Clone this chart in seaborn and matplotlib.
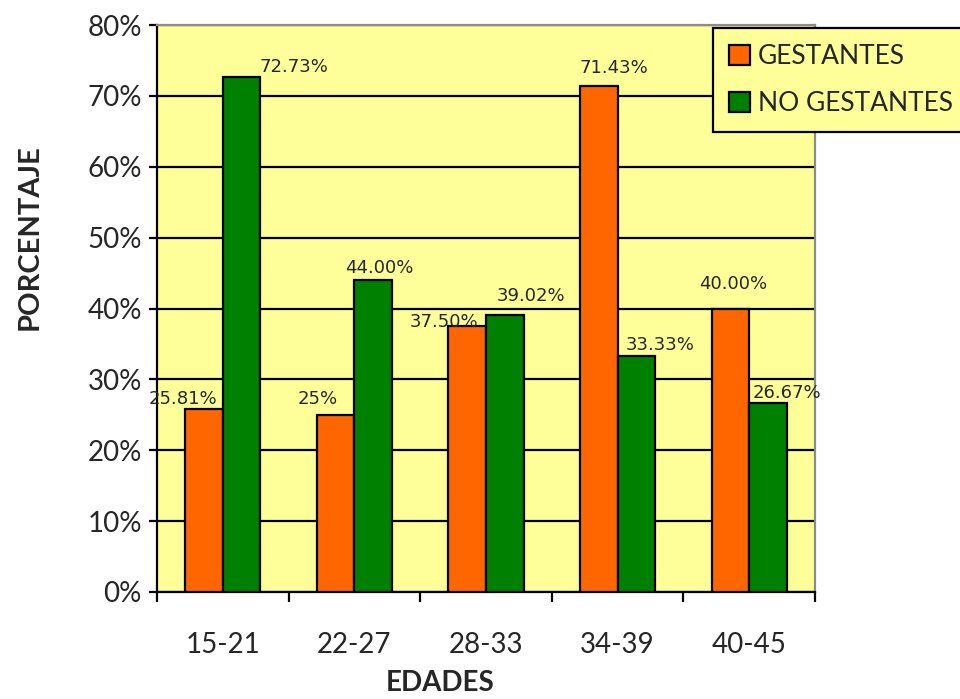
import matplotlib
matplotlib.use("Agg")
import matplotlib.pyplot as plt
from matplotlib.ticker import FixedLocator, FuncFormatter
import seaborn as sns
import pandas as pd

# Age groups and percentages per group
edades = ["15-21", "22-27", "28-33", "34-39", "40-45"]
gestantes = [25.81, 25.0, 37.50, 71.43, 40.00]
no_gestantes = [72.73, 44.00, 39.02, 33.33, 26.67]
etiquetas_g = ["25.81%", "25%", "37.50%", "71.43%", "40.00%"]
etiquetas_n = ["72.73%", "44.00%", "39.02%", "33.33%", "26.67%"]
series = ["GESTANTES", "NO GESTANTES"]
y_ticks = [0, 10, 20, 30, 40, 50, 60, 70, 80]

# label offsets (points) from the top-centre of each bar to the label centre
off_g = [(-15, 7), (-13, 11.5), (-16.5, 3), (11, 13), (2, 18)]
off_n = [(37.5, 6.5), (4.3, 8.6), (18.7, 13.7), (17.3, 8), (13.7, 7.2)]

df = pd.DataFrame({
    "edad": edades * 2,
    "valor": gestantes + no_gestantes,
    "grupo": [series[0]] * len(edades) + [series[1]] * len(edades),
})

sns.set_theme(style="white")
plt.rcParams["font.family"] = ["Lato", "DejaVu Sans"]

fig = plt.figure(figsize=(9.6, 6.99), dpi=100)
ax = fig.add_axes([157 / 960, 1 - 592 / 699, (815 - 157) / 960, (592 - 25) / 699])
ax.set_facecolor("#FFFF99")

palette = {series[0]: "#FF6600", series[1]: "#008000"}
sns.barplot(data=df, x="edad", y="valor", hue="grupo", order=edades,
            hue_order=series, palette=palette, width=0.57, gap=0,
            edgecolor="black", linewidth=1.6, saturation=1, ax=ax, zorder=3)

ax.set_ylim(0, 80)
ax.set_xlim(-0.5, len(edades) - 0.5)
ax.yaxis.set_major_locator(FixedLocator(y_ticks))
ax.yaxis.set_major_formatter(FuncFormatter(lambda v, p: f"{int(v)}%"))
ax.grid(axis="y", color="black", linewidth=1.6, zorder=1)
ax.set_axisbelow(True)

# group boundaries carry the x tick marks
ax.set_xticks([i - 0.5 for i in range(len(edades) + 1)], minor=True)
ax.tick_params(axis="x", which="minor", direction="out", length=7, width=1.6,
               color="black", bottom=True)
ax.tick_params(axis="x", which="major", length=0, pad=29, labelsize=20)
ax.tick_params(axis="y", which="major", direction="out", length=6, width=1.6,
               color="black", left=True, labelsize=20, pad=5)

for s in ["left", "bottom"]:
    ax.spines[s].set_color("black")
    ax.spines[s].set_linewidth(1.6)
for s in ["top", "right"]:
    ax.spines[s].set_color("#8C8C8C")
    ax.spines[s].set_linewidth(1.6)

ax.set_xlabel("EDADES", fontsize=20, fontweight="bold")
ax.xaxis.set_label_coords((440 - 157) / 658, -(683 - 592) / 567)
ax.xaxis.label.set_va("center")
ax.set_ylabel("PORCENTAJE", fontsize=21, fontweight="bold")
ax.yaxis.set_label_coords(-(157 - 30) / 658, (592 - 237) / 567)
ax.yaxis.label.set_va("center")

# value labels
containers = ax.containers
for cont, labels, offs in [(containers[0], etiquetas_g, off_g),
                           (containers[1], etiquetas_n, off_n)]:
    for bar, lab, (dx, dy) in zip(cont, labels, offs):
        x = bar.get_x() + bar.get_width() / 2
        y = bar.get_height()
        ax.annotate(lab, (x, y), xytext=(dx, dy), textcoords="offset points",
                    ha="center", va="center", fontsize=13,
                    family=["DejaVu Sans"], zorder=5)

ax.legend_.remove()
handles = [plt.Rectangle((0, 0), 1, 1, facecolor=palette[s], edgecolor="black",
                         linewidth=1.6) for s in series]
leg = fig.legend(handles, series, loc="upper left",
                 bbox_to_anchor=(713 / 960, 1 - 28 / 699),
                 bbox_transform=fig.transFigure, borderaxespad=0,
                 fontsize=19, handlelength=0.8, handleheight=0.8,
                 handletextpad=0.3, labelspacing=0.85, borderpad=0.6,
                 fancybox=False, framealpha=1, facecolor="#FFFF99",
                 edgecolor="black")
leg.get_frame().set_linewidth(1.6)

fig.savefig("out.png", dpi=100, facecolor="white")
